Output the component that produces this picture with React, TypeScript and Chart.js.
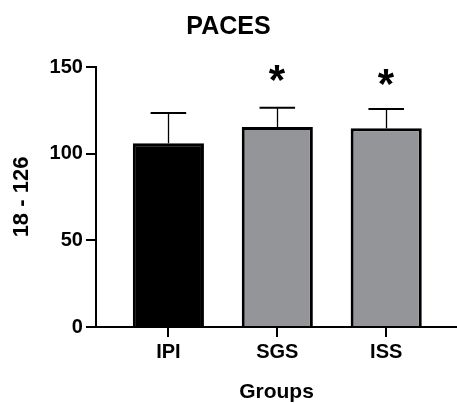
import { useEffect, useRef } from 'react';
import { Chart, registerables } from 'chart.js';

Chart.register(...registerables);

const categories = ['IPI', 'SGS', 'ISS'];
const means = [106, 115.4, 114.6];
const sds = [17.4, 11.1, 11.2];
const markLevels: (number | null)[] = [null, 146.5, 144.4];
const markText = '*';
const barColors = ['#000000', '#939598', '#939598'];
const yTickValues = [0, 50, 100, 150];
const titleText = 'PACES';
const xTitle = 'Groups';
const yTitle = '18 - 126';

const FONT = "'Liberation Sans', Arial, Helvetica, sans-serif";

const errorBarPlugin = {
  id: 'errorBarsAndMarks',
  afterDatasetsDraw(chart: any) {
    const ctx = chart.ctx as CanvasRenderingContext2D;
    const meta = chart.getDatasetMeta(0);
    const yScale = chart.scales.y;
    ctx.save();
    ctx.strokeStyle = '#000000';
    ctx.fillStyle = '#000000';
    meta.data.forEach((el: any, i: number) => {
      const top = yScale.getPixelForValue(means[i] + sds[i]);
      const x = Math.round(el.x) + 0.5;
      ctx.lineWidth = 1.3;
      ctx.beginPath();
      ctx.moveTo(x, el.y);
      ctx.lineTo(x, top);
      ctx.stroke();
      const half = el.width / 4;
      ctx.lineWidth = 2;
      ctx.beginPath();
      ctx.moveTo(el.x - half, top);
      ctx.lineTo(el.x + half, top);
      ctx.stroke();
      const m = markLevels[i];
      if (m != null) {
        ctx.font = `bold 42px ${FONT}`;
        ctx.textAlign = 'left';
        ctx.textBaseline = 'alphabetic';
        const tm = ctx.measureText(markText);
        const cy = yScale.getPixelForValue(m);
        const baseY = cy + (tm.actualBoundingBoxAscent - tm.actualBoundingBoxDescent) / 2;
        const baseX = el.x - (tm.actualBoundingBoxRight - tm.actualBoundingBoxLeft) / 2 + tm.actualBoundingBoxLeft;
        ctx.fillText(markText, baseX, baseY);
      }
    });
    ctx.restore();
  },
};

export default function App() {
  const ref = useRef<HTMLCanvasElement | null>(null);

  useEffect(() => {
    if (!ref.current) return;
    Chart.defaults.font.family = FONT;
    const chart = new Chart(ref.current, {
      type: 'bar',
      data: {
        datasets: [
          {
            data: categories.map((_, i) => ({ x: i, y: means[i] })) as any,
            backgroundColor: barColors,
            borderColor: '#000000',
            borderWidth: 3,
            barPercentage: 0.653,
            categoryPercentage: 1,
          },
        ],
      },
      options: {
        responsive: false,
        animation: false,
        layout: { padding: 0 },
        plugins: {
          legend: { display: false },
          tooltip: { enabled: false },
          title: {
            display: true,
            text: titleText,
            color: '#000000',
            font: { size: 25, weight: 'bold', family: FONT },
            padding: { top: 12.5, bottom: 24.5 },
          },
        },
        scales: {
          x: {
            type: 'linear',
            min: -0.665,
            max: 2.65,
            offset: false,
            afterBuildTicks: (scale: any) => {
              scale.ticks = categories.map((_, i) => ({ value: i }));
            },
            ticks: {
              color: '#000000',
              font: { size: 20, weight: 'bold', family: FONT },
              padding: 3.7,
              maxRotation: 0,
              autoSkip: false,
              callback: (v: any) => categories[Math.round(Number(v))] ?? '',
            },
            grid: {
              display: true,
              offset: false,
              drawOnChartArea: false,
              drawTicks: true,
              tickLength: 10,
              color: '#000000',
              lineWidth: 2,
            },
            border: { display: true, color: '#000000', width: 2 },
            title: {
              display: true,
              text: xTitle,
              color: '#000000',
              font: { size: 21, weight: 'bold', family: FONT },
              padding: { top: 11.4, bottom: -2 },
            },
          },
          y: {
            type: 'linear',
            min: 0,
            max: 150,
            afterBuildTicks: (scale: any) => {
              scale.ticks = yTickValues.map((v) => ({ value: v }));
            },
            ticks: {
              color: '#000000',
              font: { size: 20, weight: 'bold', family: FONT },
              padding: 3,
            },
            grid: {
              display: true,
              drawOnChartArea: false,
              drawTicks: true,
              tickLength: 10,
              color: '#000000',
              lineWidth: 2,
            },
            border: { display: true, color: '#000000', width: 2 },
            title: {
              display: true,
              text: yTitle,
              color: '#000000',
              font: { size: 22, weight: 'bold', family: FONT },
              padding: { top: 8.5, bottom: 11.7 },
            },
          },
        },
      },
      plugins: [errorBarPlugin],
    });
    return () => chart.destroy();
  }, []);

  return (
    <div style={{ position: 'absolute', left: 0, top: 0, width: 457, height: 403 }}>
      <canvas ref={ref} width={457} height={403} style={{ display: 'block', width: 457, height: 403 }} />
    </div>
  );
}
